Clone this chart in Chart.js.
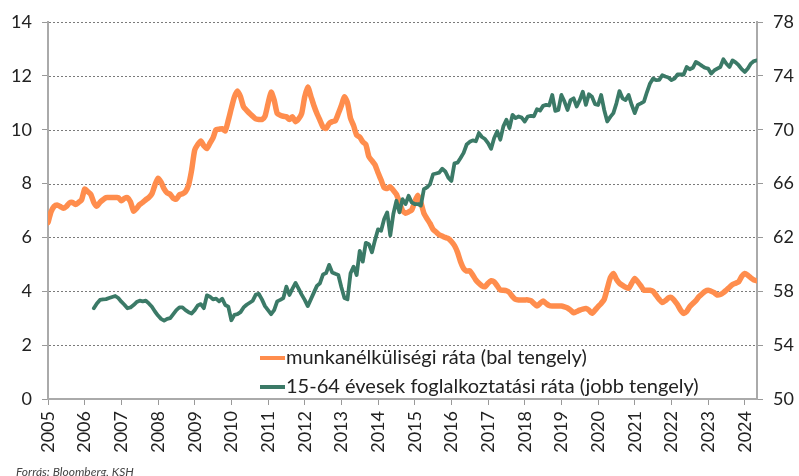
<!DOCTYPE html>
<html>
<head>
<meta charset="utf-8">
<script src="https://cdn.jsdelivr.net/npm/chart.js@4"></script>
<style>
  html, body { margin: 0; padding: 0; background: #fff; }
  #wrap { width: 799px; height: 476px; position: relative; }
</style>
</head>
<body>
<div id="wrap"><canvas id="chart"></canvas></div>
<script>
// havi adatok 2005 januártól
const startYear = 2005;
const yearTicks = [2005, 2006, 2007, 2008, 2009, 2010, 2011, 2012, 2013, 2014,
  2015, 2016, 2017, 2018, 2019, 2020, 2021, 2022, 2023, 2024];

const labels = ['munkanélküliségi ráta (bal tengely)',
  '15-64 évesek foglalkoztatási ráta (jobb tengely)'];

// munkanélküliségi ráta, 2005-01 .. 2024-05
const unemployment = [
  6.55, 6.95, 7.15, 7.2, 7.15, 7.08, 7.15, 7.28, 7.3, 7.22, 7.3, 7.4,
  7.79, 7.7, 7.6, 7.3, 7.16, 7.3, 7.4, 7.48, 7.48, 7.48, 7.48, 7.48,
  7.36, 7.45, 7.48, 7.32, 6.98, 7.08, 7.22, 7.3, 7.4, 7.48, 7.62, 7.95,
  8.2, 8.05, 7.8, 7.65, 7.6, 7.45, 7.42, 7.58, 7.62, 7.7, 7.95, 8.5,
  9.24, 9.45, 9.58, 9.4, 9.3, 9.5, 9.7, 10.0, 10.02, 10.04, 9.96, 10.35,
  10.8, 11.22, 11.44, 11.22, 10.85, 10.72, 10.6, 10.5, 10.4, 10.38, 10.38, 10.5,
  10.97, 11.4, 11.1, 10.6, 10.54, 10.5, 10.48, 10.38, 10.48, 10.3, 10.4, 10.6,
  11.22, 11.59, 11.25, 10.9, 10.6, 10.35, 10.1, 10.05, 10.23, 10.3, 10.33, 10.6,
  10.9, 11.22, 11.0, 10.42, 10.15, 9.8, 9.73, 9.55, 9.45, 9.0, 8.85, 8.7,
  8.4, 8.13, 7.85, 7.82, 7.88, 7.75, 7.6, 7.3, 7.0, 6.9, 6.95, 7.02,
  7.32, 7.57, 7.3, 6.9, 6.7, 6.52, 6.3, 6.2, 6.1, 6.05, 6.0, 5.96,
  5.85, 5.7, 5.45, 5.1, 4.85, 4.75, 4.76, 4.6, 4.42, 4.3, 4.2, 4.17,
  4.3, 4.39, 4.35, 4.2, 4.05, 4.04, 4.02, 3.95, 3.8, 3.7, 3.68, 3.68,
  3.68, 3.68, 3.65, 3.55, 3.45, 3.55, 3.64, 3.55, 3.47, 3.45, 3.45, 3.45,
  3.45, 3.42, 3.38, 3.3, 3.2, 3.25, 3.3, 3.34, 3.36, 3.3, 3.18, 3.3,
  3.43, 3.55, 3.7, 4.1, 4.5, 4.66, 4.45, 4.3, 4.22, 4.15, 4.11, 4.3,
  4.48, 4.35, 4.2, 4.04, 4.04, 4.04, 4.0, 3.85, 3.7, 3.58, 3.65, 3.75,
  3.77, 3.65, 3.5, 3.3, 3.18, 3.25, 3.43, 3.55, 3.65, 3.8, 3.9, 4.0,
  4.04, 4.0, 3.95, 3.86, 3.88, 3.95, 4.05, 4.15, 4.25, 4.3, 4.35, 4.55,
  4.66, 4.6, 4.5, 4.42, 4.39
];

// foglalkoztatási ráta, 2006-04 .. 2024-05
const employmentStart = 15; // hónap-index 2005-01-től
const employment = [
  56.74, 57.1, 57.36, 57.4, 57.42, 57.5, 57.58, 57.65, 57.5,
  57.23, 57.0, 56.74, 56.8, 56.98, 57.2, 57.3, 57.25, 57.3, 57.1, 56.85, 56.5,
  56.2, 55.95, 55.82, 55.95, 56.0, 56.3, 56.6, 56.8, 56.8, 56.6, 56.45, 56.35,
  56.6, 56.95, 57.05, 56.75, 57.7, 57.6, 57.4, 57.45, 57.25, 57.45, 56.98, 56.86,
  55.85, 56.25, 56.3, 56.45, 56.8, 57.0, 57.15, 57.3, 57.75, 57.8, 57.4, 56.9,
  56.6, 56.3, 56.6, 57.25, 57.36, 57.5, 58.34, 57.73, 58.2, 58.62, 58.2, 57.75,
  57.36, 56.9, 57.4, 57.9, 58.4, 58.6, 59.25, 59.35, 59.96, 59.4, 59.3, 59.21,
  58.3, 57.5, 57.4, 59.34, 59.83, 59.21, 61.0, 60.2, 61.6, 61.5, 60.9, 61.8,
  62.6, 62.5, 63.37, 63.86, 62.15, 63.74, 64.72, 63.86, 64.84, 64.48, 65.09, 64.6,
  64.48, 64.48, 64.36, 65.58, 65.71, 65.95, 66.69, 66.75, 66.81, 67.1, 66.9, 66.44,
  66.2, 67.5, 67.55, 67.9, 68.28, 68.9, 69.1, 69.21, 69.14, 69.75, 69.46, 69.31,
  69.0, 68.58, 69.39, 69.88, 69.26, 70.25, 70.74, 70.12, 71.1, 70.86, 70.98, 70.9,
  70.61, 70.98, 71.03, 71.0, 71.52, 71.42, 71.77, 71.84, 71.8, 72.58, 71.4, 71.47,
  72.58, 72.09, 71.47, 72.2, 72.33, 71.72, 72.2, 72.82, 71.84, 72.63, 72.45, 71.9,
  71.84, 72.58, 71.47, 70.61, 70.95, 71.23, 71.96, 72.87, 72.33, 72.2, 72.58, 71.84,
  71.23, 71.84, 71.96, 72.09, 72.8, 73.44, 73.8, 73.68, 73.7, 74.05, 73.95, 73.88,
  73.68, 73.8, 74.1, 74.1, 74.1, 74.66, 74.49, 74.6, 75.03, 74.9, 74.74, 74.6,
  74.54, 74.17, 74.4, 74.54, 74.66, 75.23, 74.9, 74.66, 75.15, 75.0, 74.79, 74.5,
  74.29, 74.55, 74.91, 75.1, 75.15
];

const ORANGE = '#ff8d4d';
const GREEN = '#3b7a67';
const FONT = 'Lato';

const toPoints = (values, offset) =>
  values.map((v, i) => ({ x: startYear + (offset + i) / 12, y: v }));

const lastX = startYear + (unemployment.length - 1) / 12;

// pontozott rácsvonalak a bal tengely osztásainál
const dottedGrid = {
  id: 'dottedGrid',
  beforeDatasetsDraw(chart) {
    const { ctx, chartArea } = chart;
    const sc = chart.scales.y;
    ctx.save();
    ctx.strokeStyle = '#7a7a7a';
    ctx.lineWidth = 1;
    ctx.setLineDash([2, 2]);
    sc.ticks.forEach(t => {
      if (t.value === sc.min) return;
      const y = Math.round(sc.getPixelForValue(t.value)) + 0.5;
      ctx.beginPath();
      ctx.moveTo(chartArea.left + 1, y);
      ctx.lineTo(chartArea.right - 1, y);
      ctx.stroke();
    });
    ctx.restore();
  }
};

// jelmagyarázat a rajzterületen belül + forrás
const overlay = {
  id: 'overlay',
  afterDraw(chart) {
    const ctx = chart.ctx;
    ctx.save();
    const rows = [
      { text: labels[0], color: ORANGE, y: 358 },
      { text: labels[1], color: GREEN, y: 387 }
    ];
    rows.forEach(r => {
      ctx.strokeStyle = r.color;
      ctx.lineWidth = 4;
      ctx.beginPath();
      ctx.moveTo(260, r.y);
      ctx.lineTo(285, r.y);
      ctx.stroke();
      ctx.fillStyle = '#222';
      ctx.font = '20px ' + FONT;
      ctx.textBaseline = 'middle';
      ctx.fillText(r.text, 286, r.y);
    });
    ctx.font = 'italic 12px ' + FONT;
    ctx.fillStyle = '#444';
    ctx.textBaseline = 'alphabetic';
    ctx.fillText('Forrás: Bloomberg, KSH', 16, 476);
    ctx.restore();
  }
};

const tickFont = { family: FONT, size: 18 };

new Chart(document.getElementById('chart'), {
  type: 'line',
  data: {
    datasets: [
      {
        label: labels[0],
        data: toPoints(unemployment, 0),
        yAxisID: 'y',
        borderColor: ORANGE,
        borderWidth: 5.5,
        tension: 0.2,
        pointRadius: 0,
        borderJoinStyle: 'round',
        borderCapStyle: 'round',
        order: 1
      },
      {
        label: labels[1],
        data: toPoints(employment, employmentStart),
        yAxisID: 'y2',
        borderColor: GREEN,
        borderWidth: 3.8,
        tension: 0,
        pointRadius: 0,
        borderJoinStyle: 'round',
        borderCapStyle: 'round',
        order: 0
      }
    ]
  },
  options: {
    responsive: true,
    maintainAspectRatio: false,
    animation: false,
    layout: { padding: { top: 22, left: 0, right: 0, bottom: 0 } },
    plugins: { legend: { display: false }, tooltip: { enabled: false } },
    scales: {
      x: {
        type: 'linear',
        min: startYear,
        max: lastX,
        afterBuildTicks: scale => {
          scale.ticks = yearTicks.map(v => ({ value: v }));
        },
        afterFit: scale => { scale.height = 77; },
        grid: { drawOnChartArea: false, drawTicks: true, tickLength: 6, color: '#999' },
        border: { color: '#aaa', width: 2 },
        ticks: {
          font: tickFont,
          color: '#222',
          padding: 6,
          minRotation: 90,
          maxRotation: 90,
          autoSkip: false,
          callback: v => String(v)
        }
      },
      y: {
        position: 'left',
        min: 0,
        max: 14,
        afterFit: scale => { scale.width = 48; },
        ticks: { stepSize: 2, font: tickFont, color: '#222', padding: 10 },
        grid: { drawOnChartArea: false, tickLength: 6, color: '#999' },
        border: { display: true, color: '#aaa', width: 2 }
      },
      y2: {
        position: 'right',
        min: 50,
        max: 78,
        afterFit: scale => { scale.width = 42; },
        ticks: { stepSize: 4, font: tickFont, color: '#222', padding: 10 },
        grid: { drawOnChartArea: false, tickLength: 6, color: '#999' },
        border: { color: '#aaa', width: 2 }
      }
    }
  },
  plugins: [dottedGrid, overlay]
});
</script>
</body>
</html>
